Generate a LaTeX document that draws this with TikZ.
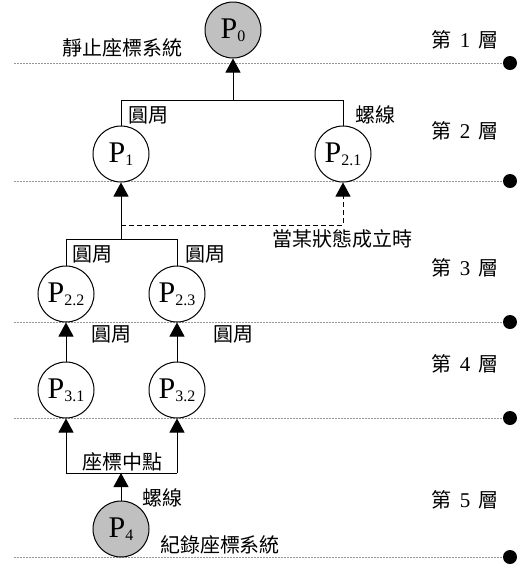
\documentclass[tikz,border=0pt]{standalone}
\usepackage{fontspec}
\setmainfont{Liberation Serif}
\newfontfamily\cjk{Noto Sans CJK TC}
\usetikzlibrary{arrows.meta}
% state label: big P with a lowered index
\newcommand{\plab}[1]{{\fontsize{30}{30}\selectfont P}{\fontsize{16}{16}\selectfont\raisebox{-3pt}{#1}}}
% layer name: "第 n 層" with wide gaps
\newcommand{\layername}[1]{第\hspace{8pt}{\rmfamily\fontsize{21}{22}\selectfont #1}\hspace{8pt}層}
\tikzset{
  x=1pt, y=-1pt,
  state/.style={circle, draw, line width=1pt, minimum size=56pt, inner sep=0pt, fill=white},
  grey state/.style={state, fill={rgb,255:red,192;green,192;blue,192}},
  lbl/.style={font=\cjk\fontsize{20}{22}\selectfont, inner sep=0pt},
  layer/.style={font=\cjk\fontsize{20}{22}\selectfont, inner sep=0pt},
  link/.style={line width=1pt},
  arr/.style={link, -{Triangle[length=14pt,width=15pt]}},
  cond/.style={arr, dash pattern=on 5pt off 3pt},
  sep/.style={line width=0.8pt, draw={rgb,255:red,150;green,150;blue,150}, dash pattern=on 2pt off 1pt},
  endpt/.style={circle, fill=black, minimum size=14pt, inner sep=0pt},
}
\begin{document}
\begin{tikzpicture}
\useasboundingbox (0,0) rectangle (517,566);

% layer separators with their end dots
\foreach \n/\y in {1/63, 2/181, 3/322, 4/418, 5/557} {
  \node[endpt] (e\n) at (510,\y) {};
  \coordinate (s\n) at (14,\y);
  \draw[sep] (s\n) -- (e\n.west);
}

% layer names
\node[layer] (L1) at (465,40) {\layername{1}};
\node[layer] (L2) at (465,131) {\layername{2}};
\node[layer] (L3) at (465,268) {\layername{3}};
\node[layer] (L4) at (465,364) {\layername{4}};
\node[layer] (L5) at (465,500) {\layername{5}};

% states
\node[grey state] (P0) at (233,30) {\plab{0}};
\node[state] (P1) at (121,154) {\plab{1}};
\node[state] (P21) at (343,154) {\plab{2.1}};
\node[state] (P22) at (66,294) {\plab{2.2}};
\node[state] (P23) at (177,294) {\plab{2.3}};
\node[state] (P31) at (66,390) {\plab{3.1}};
\node[state] (P32) at (177,390) {\plab{3.2}};
\node[grey state] (P4) at (121,529) {\plab{4}};

% junction points
\coordinate (b1) at (233,100);
\coordinate (b2) at (121,239);
\coordinate (d2) at (121,225);
\coordinate (b4) at (121,473);

% layer 2 -> layer 1
\draw[link] (P1.north) -- (P1.north |- b1) -- (P21.north |- b1) -- (P21.north);
\draw[arr] (b1) -- (P0.south);

% layer 3 -> layer 2
\draw[link] (P22.north) -- (P22.north |- b2) -- (P23.north |- b2) -- (P23.north);
\draw[arr] (b2) -- (P1.south);
\draw[cond] (d2) -| (P21.south);

% layer 4 -> layer 3
\draw[arr] (P31.north) -- (P22.south);
\draw[arr] (P32.north) -- (P23.south);

% layer 5 -> layer 4
\draw[link] (P31.south |- b4) -- (P32.south |- b4);
\draw[arr] (P31.south |- b4) -- (P31.south);
\draw[arr] (P32.south |- b4) -- (P32.south);
\draw[arr] (P4.north) -- (b4);

% labels
\node[lbl] (t0) at (123,48) {靜止座標系統};
\node[lbl] (t1) at (148,115) {圓周};
\node[lbl] (t2) at (375,115) {螺線};
\node[lbl] (t3) at (342,239) {當某狀態成立時};
\node[lbl] (t4) at (92,254) {圓周};
\node[lbl] (t5) at (205,254) {圓周};
\node[lbl] (t6) at (112,334) {圓周};
\node[lbl] (t7) at (233,334) {圓周};
\node[lbl] (t8) at (122,462) {座標中點};
\node[lbl] (t9) at (162,498) {螺線};
\node[lbl] (t10) at (220,545) {紀錄座標系統};
\end{tikzpicture}
\end{document}
